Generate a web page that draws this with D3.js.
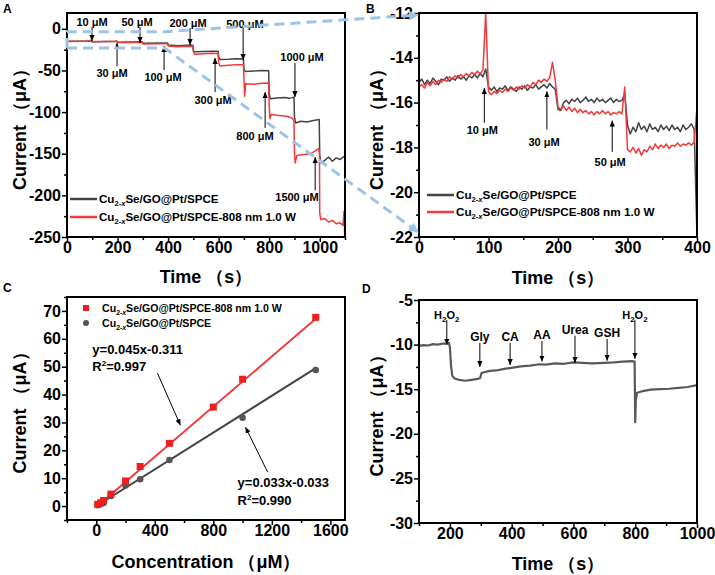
<!DOCTYPE html>
<html>
<head>
<meta charset="utf-8">
<script src="https://cdn.jsdelivr.net/npm/d3@7"></script>
<style>
body { margin: 0; background: #fff; }
text { font-family: "Liberation Sans", Arial, sans-serif; font-weight: bold; }
</style>
</head>
<body>
<svg id="fig" width="715" height="575"></svg>
<script>
// ---------- data ----------
// A: full i-t curve, [time (s), current (uA)]
var aBare = [[0,-15],[60,-14.8],[98,-14.7],[100,-15.4],[160,-15.3],[198,-15.2],[200,-16],[260,-15.9],[296,-15.6],[300,-17.2],[360,-17.1],[398,-17],
  [400,-19.5],[440,-20.2],[470,-19.6],[498,-19.8],[500,-25.5],[504,-27.5],[540,-27.2],[570,-26.8],[598,-27],[600,-34],[605,-36.8],[640,-36.5],[670,-36],[698,-36.2],
  [700,-48],[705,-51.2],[740,-50.8],[770,-50],[798,-50.3],[800,-78],[805,-84],[830,-83],[860,-82.5],[880,-83.5],[898,-82],
  [900,-106],[905,-113],[925,-111],[950,-112],[975,-110],[998,-109],[1000,-152],[1005,-161],[1020,-158],[1035,-154],[1050,-159],[1065,-155],[1080,-157],[1098,-153],[1100,-155]];
var aNir = [[0,-15.3],[60,-15],[95,-14.6],[97,-12],[99,-15.6],[160,-15.3],[192,-15],[195,-14.2],[200,-16.3],[260,-16.4],[296,-16.5],[298,-15.3],[300,-18.1],[360,-17.9],[398,-17.8],
  [400,-20.5],[440,-21.5],[470,-21],[498,-21.3],[500,-27],[504,-30.5],[540,-29.8],[570,-29.2],[598,-29.5],[600,-40],[605,-44.5],[640,-43.8],[670,-43.2],[698,-43],
  [700,-58],[703,-81],[707,-66],[740,-66.5],[770,-65.5],[798,-65],[800,-92],[803,-108],[808,-103],[840,-104],[870,-105],[890,-107],[898,-110],
  [900,-148],[903,-161],[910,-152],[940,-151],[965,-150],[985,-146],[996,-144],[999,-150],[1000,-221],[1004,-229],[1020,-228],[1035,-232],[1050,-230],[1065,-234],[1080,-233],[1092,-236],[1096,-219],[1099,-250]];
var aNoteText = ["10 μM","30 μM","50 μM","100 μM","200 μM","300 μM","500 μM","800 μM","1000 μM","1500 μM"];
var aNoteTime = [99,198,289,384,487,586,697,784,902,982];
var aNoteTip  = [-14.6,-17,-17,-20.6,-19.5,-35,-37.5,-76,-82,-154];
var aNoteTail = [2,-45,2,-49.5,1,-76,1,-119,-41,-194];
var aNoteLabelTime = [99,178,277,380,479,578,704,744,930,910];
var aNoteLabelVal  = [8,-53,8,-58,7,-85.5,6,-128.7,-34,-202];

// B: zoomed first 400 s, sampled every 4 s
var bStep = 4;
var bBare = [-15.1,-14.95,-15.2,-15.0,-15.15,-14.9,-15.05,-15.2,-14.95,-15.0,-14.85,-15.05,-14.9,-15.0,-14.8,-14.95,-14.85,-15.0,-14.8,-14.9,-14.75,-14.9,-14.7,-14.85,-14.5,
  -15.3,-15.45,-15.3,-15.5,-15.35,-15.4,-15.25,-15.45,-15.3,-15.4,-15.5,-15.3,-15.4,-15.25,-15.45,-15.3,-15.35,-15.2,-15.4,-15.3,-15.2,-15.35,-15.15,-15.3,-15.4,
  -16.3,-16.35,-16.0,-15.9,-16.05,-15.85,-15.95,-15.8,-16.0,-15.9,-15.75,-15.95,-15.85,-16.0,-15.8,-15.95,-15.85,-16.0,-15.9,-15.8,-16.0,-15.85,-15.95,-15.9,-15.6,
  -17.0,-17.4,-17.1,-17.3,-16.9,-17.2,-17.05,-17.3,-16.95,-17.2,-17.1,-17.3,-17.0,-17.2,-17.05,-17.25,-17.0,-17.2,-17.1,-17.3,-17.0,-17.2,-17.1,-16.95,-17.2,-22];
var bNir = [-15.3,-15.2,-15.35,-15.1,-15.25,-15.05,-15.2,-15.0,-15.1,-14.95,-15.05,-14.85,-14.95,-14.8,-14.9,-14.75,-14.85,-14.7,-14.8,-14.65,-14.75,-14.6,-14.7,-14.55,-12.0,
  -15.5,-15.65,-15.5,-15.6,-15.45,-15.55,-15.4,-15.5,-15.35,-15.45,-15.3,-15.4,-15.25,-15.35,-15.2,-15.3,-15.1,-15.2,-15.0,-15.1,-14.95,-15.05,-14.9,-14.2,-15.0,
  -16.2,-16.3,-16.15,-16.35,-16.2,-16.4,-16.25,-16.45,-16.3,-16.45,-16.35,-16.5,-16.4,-16.55,-16.4,-16.5,-16.35,-16.5,-16.4,-16.55,-16.45,-16.5,-16.4,-16.5,-15.3,
  -18.1,-18.2,-18.0,-18.25,-18.05,-18.35,-18.1,-18.2,-17.95,-18.1,-17.85,-18.05,-17.9,-18.0,-17.85,-18.05,-17.9,-17.95,-17.8,-17.95,-17.85,-17.9,-17.8,-17.9,-17.75,-16.2];
var bNoteText = ["10 μM","30 μM","50 μM"];
var bNoteTime = [94,184,278];
var bNoteTip  = [-15.35,-15.5,-16.8];
var bNoteTail = [-16.9,-17.2,-18.2];
var bNoteLabelTime = [91,180,275];
var bNoteLabelVal  = [-17.22,-17.76,-18.65];

// C: calibration
var cConc = [10,30,50,100,200,300,500,800,1000,1500];
var cNir  = [0.6,1.2,2.0,4.3,9.0,14.2,22.5,35.5,45.5,67.7];
var cBare = [0.3,0.7,1.1,3.6,7.4,9.6,16.5,null,31.7,48.8];
var cSlope = [0.045,0.033];
var cIntercept = [-0.311,-0.033];
var cFitRange = [10,1500];
var cEqText = ["y=0.045x-0.311","y=0.033x-0.033"];
var cR2Text = ["0.997","0.990"];
var cEqConc = [-27,966];
var cEqVal = [56.3,8.6];
var cR2Val = [50.2,2.2];
var cArrowTail = [[418,47.7],[1171,12.2]];
var cArrowTip  = [[575,29],[1020,28.3]];

// D: selectivity
var dCurve = [[100,-10.15],[115,-10.05],[130,-10.1],[145,-9.95],[160,-10.0],[175,-9.9],[190,-9.9],[197,-9.8],[200,-10.3],[204,-12.5],[208,-13.5],[215,-13.8],
  [230,-13.95],[250,-14.05],[270,-13.95],[290,-13.85],[298,-13.75],[302,-13.2],[310,-13.1],[330,-12.95],[350,-12.9],[380,-12.7],[400,-12.6],[430,-12.45],
  [460,-12.35],[490,-12.2],[510,-12.25],[540,-12.1],[570,-12.15],[600,-12.0],[630,-12.05],[660,-12.1],[700,-12.05],[730,-12.0],[760,-11.9],[790,-11.85],[798,-11.9],
  [800,-18.7],[802,-16.2],[806,-15.4],[820,-15.25],[850,-15.05],[880,-15.0],[910,-14.95],[940,-14.85],[970,-14.75],[1000,-14.55]];
var dNoteText = ["H2O2","Gly","CA","AA","Urea","GSH","H2O2"];
var dNoteTime = [190,297,395,498,605,709,799];
var dNoteLabelVal = [-6.68,-9.14,-9.14,-8.9,-8.36,-8.7,-6.68];
var dNoteTail = [-7.24,-9.8,-9.8,-9.6,-9.0,-9.36,-7.24];
var dNoteTip  = [-10.03,-12.5,-12.3,-11.9,-12.05,-11.8,-11.6];

// zoom box of A that B shows
var zoomTime = [0,385];
var zoomVal = [-3.5,-23];

// ---------- drawing ----------
var RED = "#f23a3a", DARK = "#444444", BLUE = "#9dc3e6";
var svg = d3.select("#fig");
var defs = svg.append("defs");

defs.append("marker").attr("id","tip").attr("viewBox","0 0 8 8").attr("refX",8).attr("refY",4)
  .attr("markerWidth",6).attr("markerHeight",6).attr("markerUnits","userSpaceOnUse").attr("orient","auto")
  .append("path").attr("d","M0,0.5 L8,4 L0,7.5 Z").attr("fill","#000");
defs.append("marker").attr("id","blueTip").attr("viewBox","0 0 10 10").attr("refX",9).attr("refY",5)
  .attr("markerWidth",10).attr("markerHeight",10).attr("markerUnits","userSpaceOnUse").attr("orient","auto")
  .append("path").attr("d","M0,0 L10,5 L0,10 Z").attr("fill",BLUE);

function panel(id, box, xDom, yDom, xMaj, xMin, yMaj, yMin) {
  var x = d3.scaleLinear().domain(xDom).range([box.l, box.r]);
  var y = d3.scaleLinear().domain(yDom).range([box.b, box.t]);
  var g = svg.append("g");
  defs.append("clipPath").attr("id","clip"+id).append("rect")
    .attr("x",box.l).attr("y",box.t).attr("width",box.r-box.l).attr("height",box.b-box.t);
  var fmt = function(d) { return String(d); };
  g.append("g").attr("transform","translate(0,"+box.b+")")
    .call(d3.axisBottom(x).tickValues(xMin).tickSize(3).tickFormat(""));
  g.append("g").attr("transform","translate(0,"+box.b+")")
    .call(d3.axisBottom(x).tickValues(xMaj).tickSize(5).tickPadding(0).tickFormat(fmt));
  g.append("g").attr("transform","translate("+box.l+",0)")
    .call(d3.axisLeft(y).tickValues(yMin).tickSize(3).tickFormat(""));
  g.append("g").attr("transform","translate("+box.l+",0)")
    .call(d3.axisLeft(y).tickValues(yMaj).tickSize(5).tickPadding(1).tickFormat(fmt));
  g.selectAll(".domain").remove();
  g.selectAll(".tick line").attr("stroke","#000").attr("stroke-width",1.5);
  g.selectAll(".tick text").attr("font-size",16).attr("font-weight","bold")
    .attr("font-family",'"Liberation Sans", Arial, sans-serif').attr("fill","#000");
  var plot = g.append("g").attr("clip-path","url(#clip"+id+")");
  g.append("rect").attr("x",box.l).attr("y",box.t).attr("width",box.r-box.l).attr("height",box.b-box.t)
    .attr("fill","none").attr("stroke","#000").attr("stroke-width",2);
  return {g: g, plot: plot, x: x, y: y, box: box};
}

function yTitle(p, cx, txt) {
  var cy = (p.box.t + p.box.b) / 2;
  svg.append("text").attr("transform","translate("+cx+","+cy+") rotate(-90)")
    .attr("text-anchor","middle").attr("dy","0.35em").attr("font-size",18).text(txt);
}
function xTitle(p, baseline, txt) {
  svg.append("text").attr("x",(p.box.l + p.box.r) / 2).attr("y",baseline)
    .attr("text-anchor","middle").attr("font-size",18).text(txt);
}
function letter(x, y, s) {
  svg.append("text").attr("x",x).attr("y",y).attr("font-size",12).text(s);
}
function cuLabel(x, y, suffix, size) {
  var t = svg.append("text").attr("x",x).attr("y",y).attr("font-size",size);
  t.append("tspan").text("Cu");
  t.append("tspan").attr("dy",3).attr("font-size",size*0.65).text("2-");
  t.append("tspan").attr("font-size",size*0.65).attr("font-style","italic").text("x");
  t.append("tspan").attr("dy",-3).text("Se/GO@Pt/SPCE" + suffix);
}
function arrow(x1, y1, x2, y2) {
  svg.append("line").attr("x1",x1).attr("y1",y1).attr("x2",x2).attr("y2",y2)
    .attr("stroke","#000").attr("stroke-width",1).attr("marker-end","url(#tip)");
}
function traceLine(p, data, color, w) {
  p.plot.append("path").datum(data)
    .attr("d", d3.line().x(function(d){ return p.x(d[0]); }).y(function(d){ return p.y(d[1]); }))
    .attr("fill","none").attr("stroke",color).attr("stroke-width",w).attr("stroke-linejoin","round");
}
function legendLines(x, y1, y2, size) {
  svg.append("line").attr("x1",x).attr("x2",x+27).attr("y1",y1).attr("y2",y1).attr("stroke",DARK).attr("stroke-width",2.5);
  svg.append("line").attr("x1",x).attr("x2",x+27).attr("y1",y2).attr("y2",y2).attr("stroke",RED).attr("stroke-width",2.5);
  cuLabel(x+29, y1+4, "", size);
  cuLabel(x+29, y2+4, "-808 nm 1.0 W", size);
}

// ----- A -----
var A = panel("A", {l:67, r:345, t:13, b:237}, [0,1100], [-250,19],
  d3.range(0,1001,200), d3.range(100,1101,200), d3.range(-250,1,50), d3.range(-225,0,50));
traceLine(A, aBare, DARK, 1.5);
traceLine(A, aNir, RED, 1.5);
aNoteText.forEach(function(s, i) {
  var x = A.x(aNoteTime[i]);
  arrow(x, A.y(aNoteTail[i]), x, A.y(aNoteTip[i]));
  svg.append("text").attr("x",A.x(aNoteLabelTime[i])).attr("y",A.y(aNoteLabelVal[i])+4)
    .attr("text-anchor","middle").attr("font-size",11).text(s);
});
legendLines(70, 199, 217, 11.6);
yTitle(A, 20, "Current （μA）");
xTitle(A, 283, "Time （s）");
letter(3, 13, "A");

// ----- B -----
var B = panel("B", {l:419, r:697, t:13, b:237}, [0,400], [-22,-12],
  d3.range(0,401,100), d3.range(50,400,100), d3.range(-22,-11,2), d3.range(-21,-12,2));
traceLine(B, bBare.map(function(v, i){ return [i*bStep, v]; }), DARK, 1.5);
traceLine(B, bNir.map(function(v, i){ return [i*bStep, v]; }), RED, 1.5);
bNoteText.forEach(function(s, i) {
  var x = B.x(bNoteTime[i]);
  arrow(x, B.y(bNoteTail[i]), x, B.y(bNoteTip[i]));
  svg.append("text").attr("x",B.x(bNoteLabelTime[i])).attr("y",B.y(bNoteLabelVal[i])+4)
    .attr("text-anchor","middle").attr("font-size",11).text(s);
});
legendLines(427, 195, 212, 11.7);
yTitle(B, 377, "Current （μA）");
xTitle(B, 284, "Time （s）");
letter(366, 13, "B");

// blue dashed zoom connectors from A to B
var zx0 = A.x(zoomTime[0]), zx1 = A.x(zoomTime[1]), zyT = A.y(zoomVal[0]), zyB = A.y(zoomVal[1]);
svg.append("path")
  .attr("d","M"+zx0+","+zyB+" L"+zx0+","+zyT+" L"+zx1+","+zyT+" L"+(B.x(0)-1)+","+(B.y(-12)+2))
  .attr("fill","none").attr("stroke",BLUE).attr("stroke-width",3).attr("stroke-dasharray","10,6")
  .attr("marker-end","url(#blueTip)");
svg.append("path")
  .attr("d","M"+zx0+","+zyB+" L"+zx1+","+zyB+" L"+(B.x(0)-1)+","+(B.y(-22)-5))
  .attr("fill","none").attr("stroke",BLUE).attr("stroke-width",3).attr("stroke-dasharray","10,6")
  .attr("marker-end","url(#blueTip)");

// ----- C -----
var C = panel("C", {l:67, r:345, t:297, b:520}, [-200,1700], [-5,75],
  d3.range(0,1601,400), d3.range(-200,1701,400), d3.range(0,71,10), d3.range(-5,76,10));
[1, 0].forEach(function(k) {
  var color = k === 0 ? RED : DARK;
  C.plot.append("line")
    .attr("x1",C.x(cFitRange[0])).attr("y1",C.y(cSlope[k]*cFitRange[0]+cIntercept[k]))
    .attr("x2",C.x(cFitRange[1])).attr("y2",C.y(cSlope[k]*cFitRange[1]+cIntercept[k]))
    .attr("stroke",color).attr("stroke-width",2);
});
var bareDots = cConc.map(function(c, i){ return [c, cBare[i]]; }).filter(function(d){ return d[1] !== null; });
C.plot.selectAll(".bare").data(bareDots).enter().append("circle")
  .attr("cx",function(d){ return C.x(d[0]); }).attr("cy",function(d){ return C.y(d[1]); })
  .attr("r",3.3).attr("fill","#555");
C.plot.selectAll(".nir").data(cConc.map(function(c, i){ return [c, cNir[i]]; })).enter().append("rect")
  .attr("x",function(d){ return C.x(d[0])-3.5; }).attr("y",function(d){ return C.y(d[1])-3.5; })
  .attr("width",7).attr("height",7).attr("fill","#f01e1e");
// legend
svg.append("rect").attr("x",83).attr("y",305).attr("width",6).attr("height",6).attr("fill","#f01e1e");
svg.append("circle").attr("cx",86).attr("cy",323).attr("r",3).attr("fill","#555");
cuLabel(102, 312, "-808 nm 1.0 W", 10.6);
cuLabel(102, 327, "", 10.6);
cEqText.forEach(function(s, k) {
  svg.append("text").attr("x",C.x(cEqConc[k])).attr("y",C.y(cEqVal[k])+5).attr("font-size",13).text(s);
  var r = svg.append("text").attr("x",C.x(cEqConc[k])).attr("y",C.y(cR2Val[k])+5).attr("font-size",13);
  r.append("tspan").text("R");
  r.append("tspan").attr("dy",-5).attr("font-size",8).text("2");
  r.append("tspan").attr("dy",5).text("=" + cR2Text[k]);
  arrow(C.x(cArrowTail[k][0]), C.y(cArrowTail[k][1]), C.x(cArrowTip[k][0]), C.y(cArrowTip[k][1]));
});
yTitle(C, 20, "Current （μA）");
xTitle(C, 568, "Concentration （μM）");
letter(3, 292, "C");

// ----- D -----
var D = panel("D", {l:419, r:697, t:300, b:523}, [100,1000], [-30,-5],
  d3.range(200,1001,200), d3.range(100,1000,200), d3.range(-30,-4,5), d3.range(-27.5,-5,5));
traceLine(D, dCurve, "#595959", 2.2);
dNoteText.forEach(function(s, i) {
  var x = D.x(dNoteTime[i]);
  arrow(x, D.y(dNoteTail[i]), x, D.y(dNoteTip[i]));
  var t = svg.append("text").attr("x",x).attr("y",D.y(dNoteLabelVal[i])+4)
    .attr("text-anchor","middle").attr("font-size",s === "H2O2" ? 11 : 12);
  if (s === "H2O2") {
    t.append("tspan").text("H");
    t.append("tspan").attr("dy",3).attr("font-size",8).text("2");
    t.append("tspan").attr("dy",-3).text("O");
    t.append("tspan").attr("dy",3).attr("font-size",8).text("2");
  } else {
    t.text(s);
  }
});
yTitle(D, 377, "Current （μA）");
xTitle(D, 570, "Time （s）");
letter(362, 293, "D");
</script>
</body>
</html>
